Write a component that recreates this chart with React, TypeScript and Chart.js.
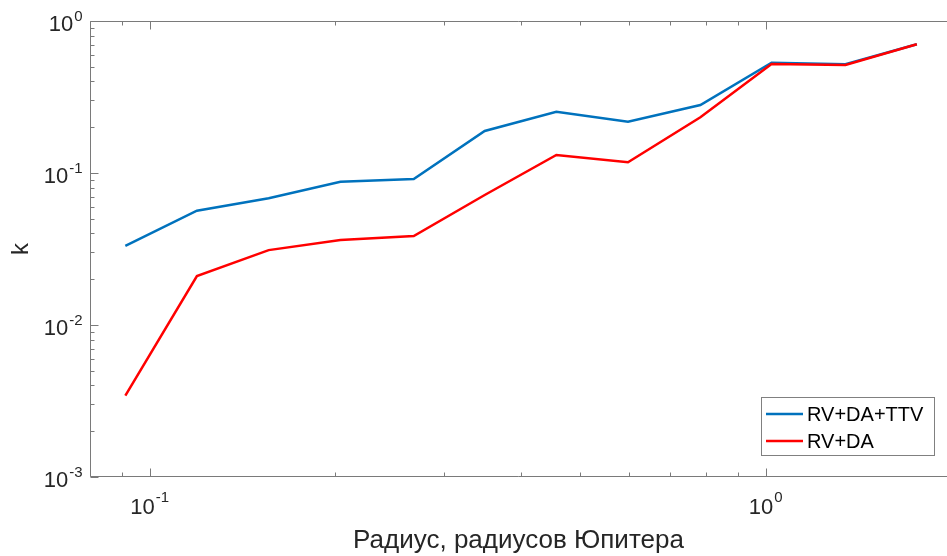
import React, { useEffect, useRef } from "react";
import { Chart, registerables } from "chart.js";

Chart.register(...registerables);

// Planet radius (Jupiter radii)
const radii = [0.0913, 0.1193, 0.156, 0.204, 0.2683, 0.3498, 0.4572, 0.5976, 0.7833, 1.022, 1.347, 1.759];
// k values
const kRvDaTtv = [0.0331, 0.0565, 0.0682, 0.0876, 0.0913, 0.189, 0.253, 0.2176, 0.28, 0.532, 0.519, 0.703];
const kRvDa = [0.00343, 0.021, 0.0311, 0.0362, 0.0385, 0.0717, 0.1313, 0.1176, 0.2325, 0.521, 0.514, 0.703];

const seriesNames = ["RV+DA+TTV", "RV+DA"];
const seriesColors = ["#0072BD", "#FF0000"];

const xTickExps = [-1, 0];
const yTickExps = [-3, -2, -1, 0];

const xLabel = "Радиус, радиусов Юпитера";
const yLabel = "k";

const FONT = "'Liberation Sans', Arial, Helvetica, sans-serif";
const TEXT = "#262626";
const AXIS = "#7a7a7a";

function drawPow(ctx: CanvasRenderingContext2D, exp: number, xRight: number | null, xCenter: number | null, baseMid: number, expMid: number) {
  const baseFont = `22px ${FONT}`;
  const expFont = `15px ${FONT}`;
  ctx.font = baseFont;
  const bw = ctx.measureText("10").width;
  ctx.font = expFont;
  const es = String(exp);
  const ew = ctx.measureText(es).width;
  const total = bw + 1 + ew;
  let left: number;
  if (xRight !== null) left = xRight - total;
  else left = (xCenter as number) - total / 2;
  ctx.fillStyle = TEXT;
  ctx.textAlign = "left";
  ctx.textBaseline = "middle";
  ctx.font = baseFont;
  ctx.fillText("10", left, baseMid);
  ctx.font = expFont;
  ctx.fillText(es, left + bw + 1, expMid);
}

const axesPlugin = {
  id: "matlabAxes",
  afterDraw(chart: any) {
    const { ctx, chartArea: a, scales } = chart;
    const xs = scales.x;
    const ys = scales.y;
    ctx.save();
    ctx.strokeStyle = AXIS;
    ctx.lineWidth = 1;
    const L = Math.round(a.left) + 0.5;
    const B = Math.round(a.bottom) - 0.5;
    const T = Math.round(a.top) + 0.5;
    const R = a.right;
    ctx.beginPath();
    ctx.moveTo(R, T);
    ctx.lineTo(L, T);
    ctx.lineTo(L, B);
    ctx.lineTo(R, B);
    ctx.stroke();

    // x ticks
    ctx.beginPath();
    for (let d = -2; d <= 0; d++) {
      for (let m = 1; m <= 9; m++) {
        const v = m * Math.pow(10, d);
        if (v < xs.min || v > xs.max) continue;
        const px = Math.round(xs.getPixelForValue(v)) + 0.5;
        const len = m === 1 ? 8 : 4;
        ctx.moveTo(px, B);
        ctx.lineTo(px, B - len);
        ctx.moveTo(px, T);
        ctx.lineTo(px, T + len);
      }
    }
    // y ticks
    for (let d = -3; d <= 0; d++) {
      for (let m = 1; m <= 9; m++) {
        const v = m * Math.pow(10, d);
        if (v < ys.min - 1e-12 || v > ys.max + 1e-12) continue;
        const py = Math.round(ys.getPixelForValue(v)) + 0.5;
        const len = m === 1 ? 8 : 4;
        ctx.moveTo(L, py);
        ctx.lineTo(L + len, py);
      }
    }
    ctx.stroke();

    // tick labels
    xTickExps.forEach((e) => {
      const px = xs.getPixelForValue(Math.pow(10, e));
      drawPow(ctx, e, null, px, a.bottom + 31, a.bottom + 21);
    });
    yTickExps.forEach((e) => {
      const py = ys.getPixelForValue(Math.pow(10, e));
      drawPow(ctx, e, L - 8, null, py + 4, py - 4);
    });

    // axis labels
    ctx.fillStyle = TEXT;
    ctx.font = `26px ${FONT}`;
    ctx.textAlign = "center";
    ctx.textBaseline = "middle";
    ctx.fillText(xLabel, (a.left + a.right) / 2, 541);
    ctx.font = `24px ${FONT}`;
    ctx.save();
    ctx.translate(21, (a.top + a.bottom) / 2);
    ctx.rotate(-Math.PI / 2);
    ctx.fillText(yLabel, 0, 0);
    ctx.restore();

    // legend
    const lx = 761.5, ly = 397.5, lw = 173, lh = 58;
    ctx.fillStyle = "#ffffff";
    ctx.fillRect(lx, ly, lw, lh);
    ctx.strokeStyle = "#808080";
    ctx.lineWidth = 1;
    ctx.strokeRect(lx, ly, lw, lh);
    ctx.font = `20px ${FONT}`;
    ctx.textAlign = "left";
    ctx.textBaseline = "middle";
    seriesNames.forEach((name, i) => {
      const yy = 414 + i * 27;
      ctx.strokeStyle = seriesColors[i];
      ctx.lineWidth = 2.5;
      ctx.beginPath();
      ctx.moveTo(766, yy);
      ctx.lineTo(803, yy);
      ctx.stroke();
      ctx.fillStyle = "#000000";
      ctx.fillText(name, 807, yy + 1);
    });
    ctx.restore();
  },
};

export default function App() {
  const ref = useRef<HTMLCanvasElement | null>(null);
  useEffect(() => {
    document.body.style.margin = "0";
    const canvas = ref.current;
    if (!canvas) return;
    const chart = new Chart(canvas, {
      type: "line",
      data: {
        datasets: [
          {
            label: seriesNames[0],
            data: radii.map((x, i) => ({ x, y: kRvDaTtv[i] })),
            borderColor: seriesColors[0],
            backgroundColor: seriesColors[0],
            borderWidth: 2.5,
            pointRadius: 0,
            tension: 0,
            order: 2,
          },
          {
            label: seriesNames[1],
            data: radii.map((x, i) => ({ x, y: kRvDa[i] })),
            borderColor: seriesColors[1],
            backgroundColor: seriesColors[1],
            borderWidth: 2.5,
            pointRadius: 0,
            tension: 0,
            order: 1,
          },
        ],
      },
      options: {
        responsive: false,
        animation: false,
        layout: { padding: { left: 0, right: 0, top: 21, bottom: 0 } },
        plugins: { legend: { display: false }, tooltip: { enabled: false } },
        scales: {
          x: {
            type: "logarithmic",
            min: 0.08,
            max: 1.969,
            ticks: { display: false },
            grid: { display: false },
            border: { display: false },
            afterFit: (s: any) => {
              s.height = 79;
              s.paddingLeft = 0;
              s.paddingRight = 0;
            },
          },
          y: {
            type: "logarithmic",
            min: 0.001,
            max: 1,
            ticks: { display: false },
            grid: { display: false },
            border: { display: false },
            afterFit: (s: any) => {
              s.width = 90;
              s.paddingTop = 0;
              s.paddingBottom = 0;
            },
          },
        },
      },
      plugins: [axesPlugin],
    } as any);
    return () => chart.destroy();
  }, []);
  return (
    <div style={{ position: "fixed", left: 0, top: 0, width: 947, height: 556, background: "#fff" }}>
      <canvas ref={ref} width={947} height={556} style={{ display: "block" }} />
    </div>
  );
}
